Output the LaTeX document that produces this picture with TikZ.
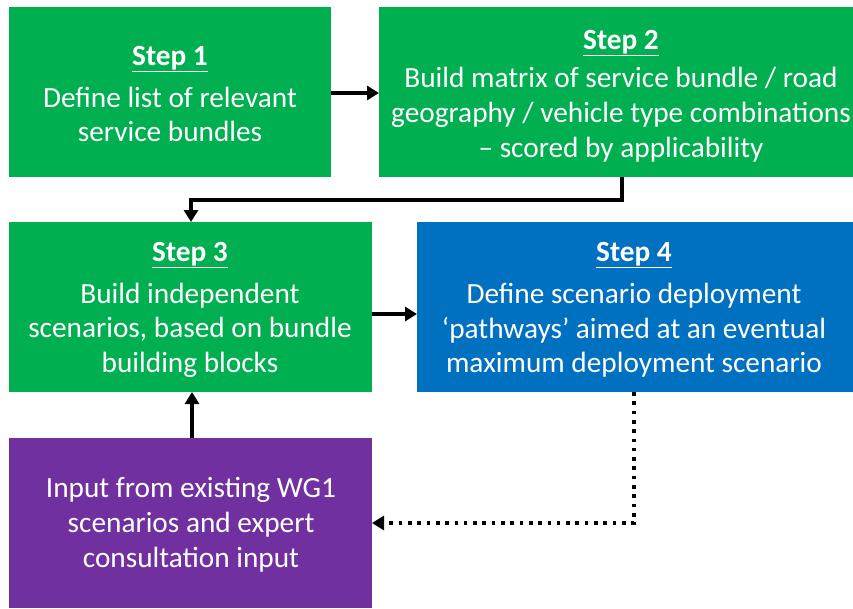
\documentclass[tikz,border=0pt]{standalone}
\usepackage{fontspec}
\setmainfont{Carlito}
\usetikzlibrary{arrows.meta}
\definecolor{cgreen}{HTML}{00B050}
\definecolor{cblue}{HTML}{0070C0}
\definecolor{cpurple}{HTML}{7030A0}
\tikzset{
  box/.style={draw=none, inner sep=0pt, align=center, text=white,
    font=\fontsize{29.3}{34.8}\selectfont},
  arr/.style={line width=3.6pt, -{Triangle[length=12pt,width=14pt]}},
  dotarr/.style={line width=3.6pt, dash pattern=on 3.6pt off 5.7pt, -{Triangle[length=12pt,width=14pt]}},
}
\newcommand{\stephead}[1]{\textbf{\underline{#1}}}
\begin{document}
\begin{tikzpicture}[x=1pt,y=-1pt]
\useasboundingbox (0,0) rectangle (853,608);
\fill[cgreen] (9,7) rectangle (331,177);
\fill[cgreen] (379,7) rectangle (853,177);
\fill[cgreen] (9,222) rectangle (372,392);
\fill[cblue] (417,222) rectangle (853,392);
\fill[cpurple] (9,438) rectangle (372,608);
\node[box] (s1) at (170,94) {\stephead{Step 1}\\[7pt]Define list of relevant\\service bundles};
\node[box] (s2) at (621,96) {\stephead{Step 2}\\[4pt]Build matrix of service bundle / road\\geography / vehicle type combinations\\– scored by applicability};
\node[box] (s3) at (190,310) {\stephead{Step 3}\\[7pt]Build independent\\scenarios, based on bundle\\building blocks};
\node[box] (s4) at (634,310) {\stephead{Step 4}\\[7pt]Define scenario deployment\\‘pathways’ aimed at an eventual\\maximum deployment scenario};
\node[box] (in) at (191,525) {Input from existing WG1\\scenarios and expert\\consultation input};
\coordinate (s1e) at (331,93);
\coordinate (s2w) at (379,93);
\coordinate (s2s) at (622,177);
\coordinate (s3n) at (191,222);
\coordinate (s3e) at (372,314);
\coordinate (s4w) at (417,314);
\coordinate (inn) at (192,438);
\coordinate (s3s) at (192,392);
\coordinate (s4s) at (634,392);
\coordinate (ine) at (372,523);
\draw[arr] (s1e) -- (s2w);
\draw[arr] (s2s) |- (191,200) -- (s3n);
\draw[arr] (s3e) -- (s4w);
\draw[arr] (inn) -- (s3s);
\draw[dotarr] (s4s) |- (ine);
\end{tikzpicture}
\end{document}
